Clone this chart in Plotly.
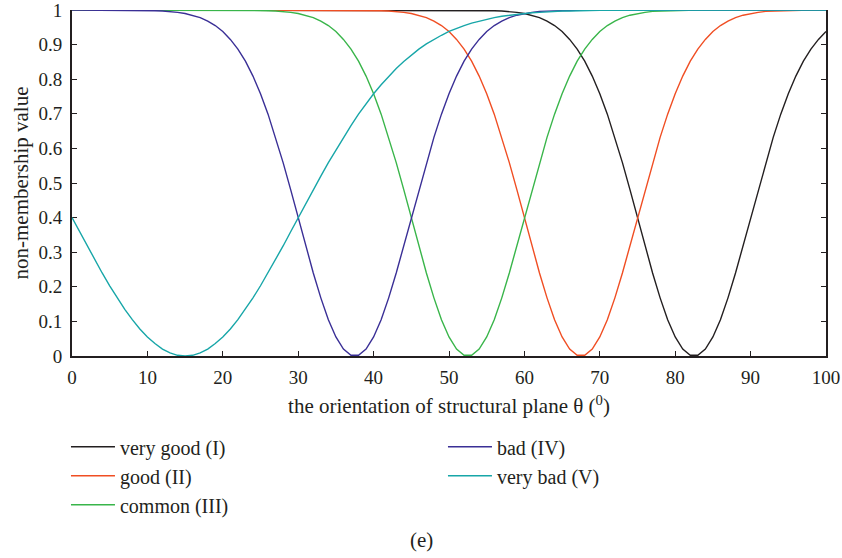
import plotly.graph_objects as go

# orientation of the structural plane (degrees)
theta = list(range(0, 101))

very_good = [
    1, 1, 1, 1, 1, 1, 1, 1, 1, 1,
    1, 1, 1, 1, 1, 1, 1, 1, 1, 1,
    1, 1, 1, 1, 1, 1, 1, 1, 1, 1,
    1, 1, 1, 1, 1, 1, 1, 1, 1, 1,
    1, 1, 1, 1, 1, 1, 1, 1, 1, 1,
    1, 1, 1, 1.000, 0.999, 0.999, 0.998, 0.997, 0.996, 0.993,
    0.990, 0.985, 0.978, 0.968, 0.955, 0.938, 0.915, 0.887, 0.852, 0.809,
    0.758, 0.699, 0.632, 0.559, 0.481, 0.400, 0.318, 0.240, 0.168, 0.105,
    0.055, 0.020, 0.002, 0.002, 0.020, 0.055, 0.105, 0.168, 0.240, 0.318,
    0.400, 0.481, 0.559, 0.632, 0.699, 0.758, 0.809, 0.852, 0.887, 0.915,
    0.938,
]

good = [
    1, 1, 1, 1, 1, 1, 1, 1, 1, 1,
    1, 1, 1, 1, 1, 1, 1, 1, 1, 1,
    1, 1, 1, 1, 1, 1, 1, 1, 1, 1,
    1, 1, 1, 1, 1, 1, 1, 1, 1.000, 0.999,
    0.999, 0.998, 0.997, 0.996, 0.993, 0.990, 0.985, 0.978, 0.968, 0.955,
    0.938, 0.915, 0.887, 0.852, 0.809, 0.758, 0.699, 0.632, 0.559, 0.481,
    0.400, 0.318, 0.240, 0.168, 0.105, 0.055, 0.020, 0.002, 0.002, 0.020,
    0.055, 0.105, 0.168, 0.240, 0.318, 0.400, 0.481, 0.559, 0.632, 0.699,
    0.758, 0.809, 0.852, 0.887, 0.915, 0.938, 0.955, 0.968, 0.978, 0.985,
    0.990, 0.993, 0.996, 0.997, 0.998, 0.999, 0.999, 1.000, 1, 1,
    1,
]

common = [
    1, 1, 1, 1, 1, 1, 1, 1, 1, 1,
    1, 1, 1, 1, 1, 1, 1, 1, 1, 1,
    1, 1, 1, 1.000, 0.999, 0.999, 0.998, 0.997, 0.996, 0.993,
    0.990, 0.985, 0.978, 0.968, 0.955, 0.938, 0.915, 0.887, 0.852, 0.809,
    0.758, 0.699, 0.632, 0.559, 0.481, 0.400, 0.318, 0.240, 0.168, 0.105,
    0.055, 0.020, 0.002, 0.002, 0.020, 0.055, 0.105, 0.168, 0.240, 0.318,
    0.400, 0.481, 0.559, 0.632, 0.699, 0.758, 0.809, 0.852, 0.887, 0.915,
    0.938, 0.955, 0.968, 0.978, 0.985, 0.990, 0.993, 0.996, 0.997, 0.998,
    0.999, 0.999, 1.000, 1, 1, 1, 1, 1, 1, 1,
    1, 1, 1, 1, 1, 1, 1, 1, 1, 1,
    1,
]

bad = [
    1, 1, 1, 1, 1, 1, 1, 1, 1.000, 0.999,
    0.999, 0.998, 0.997, 0.996, 0.993, 0.990, 0.985, 0.978, 0.968, 0.955,
    0.938, 0.915, 0.887, 0.852, 0.809, 0.758, 0.699, 0.632, 0.559, 0.481,
    0.400, 0.318, 0.240, 0.168, 0.105, 0.055, 0.020, 0.002, 0.002, 0.020,
    0.055, 0.105, 0.168, 0.240, 0.318, 0.400, 0.481, 0.559, 0.632, 0.699,
    0.758, 0.809, 0.852, 0.887, 0.915, 0.938, 0.955, 0.968, 0.978, 0.985,
    0.990, 0.993, 0.996, 0.997, 0.998, 0.999, 0.999, 1.000, 1, 1,
    1, 1, 1, 1, 1, 1, 1, 1, 1, 1,
    1, 1, 1, 1, 1, 1, 1, 1, 1, 1,
    1, 1, 1, 1, 1, 1, 1, 1, 1, 1,
    1,
]

very_bad = [
    0.400, 0.359, 0.318, 0.279, 0.240, 0.203, 0.168, 0.135, 0.105, 0.078,
    0.055, 0.036, 0.020, 0.009, 0.002, 0.000, 0.002, 0.009, 0.020, 0.036,
    0.055, 0.078, 0.105, 0.135, 0.168, 0.203, 0.240, 0.279, 0.318, 0.359,
    0.400, 0.440, 0.481, 0.520, 0.559, 0.596, 0.632, 0.666, 0.699, 0.729,
    0.758, 0.784, 0.809, 0.831, 0.851, 0.870, 0.887, 0.902, 0.915, 0.927,
    0.938, 0.947, 0.955, 0.962, 0.968, 0.973, 0.978, 0.982, 0.985, 0.988,
    0.990, 0.992, 0.993, 0.995, 0.996, 0.997, 0.997, 0.998, 0.998, 0.999,
    0.999, 0.999, 0.999, 1, 1, 1, 1, 1, 1, 1,
    1, 1, 1, 1, 1, 1, 1, 1, 1, 1,
    1, 1, 1, 1, 1, 1, 1, 1, 1, 1,
    1,
]

series = [
    ("very good (I)", very_good, "#231f20", "legend"),
    ("good (II)", good, "#f04e23", "legend"),
    ("common (III)", common, "#39b54a", "legend"),
    ("bad (IV)", bad, "#3a2f96", "legend2"),
    ("very bad (V)", very_bad, "#17a6a8", "legend2"),
]

x_ticks = [0, 10, 20, 30, 40, 50, 60, 70, 80, 90, 100]
y_ticks = [0, 0.1, 0.2, 0.3, 0.4, 0.5, 0.6, 0.7, 0.8, 0.9, 1]
y_tick_text = ["0", "0.1", "0.2", "0.3", "0.4", "0.5", "0.6", "0.7", "0.8", "0.9", "1"]

FONT = "Liberation Serif"
INK = "#231f20"
TEXT_SIZE = 21
LEGEND_SIZE = 20
TICK_SIZE = 19

fig = go.Figure()
for name, vals, color, lg in series:
    fig.add_trace(go.Scatter(
        x=theta, y=vals, mode="lines", name=name,
        line=dict(color=color, width=1.4),
        legend=lg,
    ))

legend_style = dict(
    orientation="v", xanchor="left", yanchor="top",
    font=dict(family=FONT, size=LEGEND_SIZE, color=INK),
    bgcolor="rgba(0,0,0,0)", borderwidth=0,
    itemwidth=44, tracegroupgap=0,
)

tick_style = dict(
    ticks="inside", ticklen=5, tickwidth=1.2, tickcolor=INK,
    showgrid=False, zeroline=False, automargin=False,
    layer="below traces", ticklabeloverflow="allow",
    tickfont=dict(family=FONT, size=TICK_SIZE, color=INK),
)

fig.update_layout(
    width=842, height=558,
    margin=dict(l=72, r=16, t=10, b=202),
    paper_bgcolor="white", plot_bgcolor="white",
    font=dict(family=FONT, size=TEXT_SIZE, color=INK),
    showlegend=True,
    legend=dict(x=-0.008, y=-0.206, **legend_style),
    legend2=dict(x=0.492, y=-0.206, **legend_style),
    xaxis=dict(
        range=[0, 100], tickmode="array", tickvals=x_ticks,
        showline=True, linewidth=2, linecolor=INK, mirror=False,
        ticklabelstandoff=3,
        title=dict(text="the orientation of structural plane θ (<sup>0</sup>)",
                   font=dict(family=FONT, size=TEXT_SIZE, color=INK), standoff=12),
        **tick_style,
    ),
    # top edge: tick marks only, the curves at 1 form the border
    xaxis2=dict(
        range=[0, 100], tickmode="array", tickvals=x_ticks,
        overlaying="x", anchor="y", side="top",
        showline=False, showticklabels=False,
        **tick_style,
    ),
    yaxis=dict(
        range=[0, 1], tickmode="array", tickvals=y_ticks, ticktext=y_tick_text,
        showline=True, linewidth=2, linecolor=INK, mirror="ticks",
        ticklabelstandoff=4,
        title=dict(text="non-membership value",
                   font=dict(family=FONT, size=TEXT_SIZE, color=INK), standoff=4),
        **tick_style,
    ),
    annotations=[dict(
        text="(e)", xref="paper", yref="paper", x=0.463, y=-0.532,
        xanchor="center", yanchor="middle",
        showarrow=False, font=dict(family=FONT, size=TEXT_SIZE, color=INK),
    )],
)

fig.write_html("out.html")
